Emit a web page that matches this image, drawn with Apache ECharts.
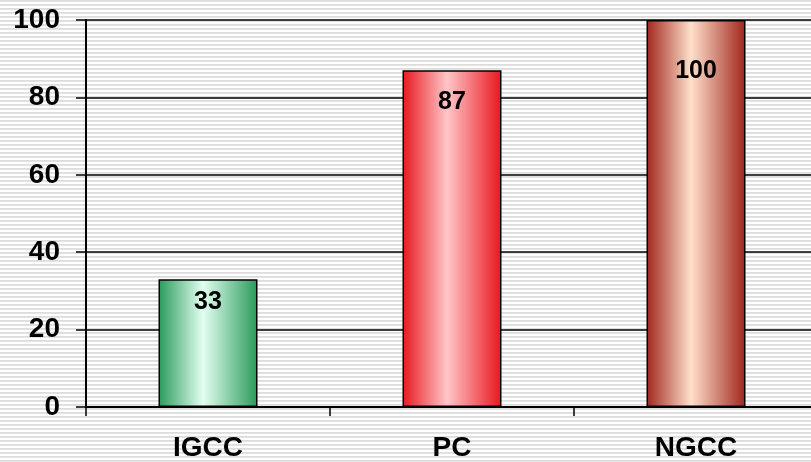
<!DOCTYPE html>
<html>
<head>
<meta charset="utf-8">
<script src="https://cdn.jsdelivr.net/npm/echarts@6/dist/echarts.min.js"></script>
<style>
html, body { margin: 0; padding: 0; }
body {
  width: 811px; height: 462px; overflow: hidden;
  background: repeating-linear-gradient(to bottom, #d9d9d9 0px, #e6e6e6 2px, #ffffff 2px, #ffffff 4px);
}
#chart { width: 818px; height: 462px; }
</style>
</head>
<body>
<div id="chart"></div>
<script>
var categories = ['IGCC', 'PC', 'NGCC'];
var values = [33, 87, 100];
var yTicks = [0, 20, 40, 60, 80, 100];

// bar colours: edge / centre of the horizontal gradient
var edgeColors = ['#2a9a5a', '#e8161e', '#a0261c'];
var midColors = ['#e2fff2', '#ffc6c8', '#ffe0cc'];
var labelGap = [10, 19, 39];

var chart = echarts.init(document.getElementById('chart'));

var barData = values.map(function(v, i) {
  return {
    value: v,
    itemStyle: {
      color: new echarts.graphic.LinearGradient(0, 0, 1, 0, [
        { offset: 0, color: edgeColors[i] },
        { offset: 0.45, color: midColors[i] },
        { offset: 1, color: edgeColors[i] }
      ])
    },
    label: { distance: labelGap[i] }
  };
});

var option = {
  backgroundColor: 'transparent',
  animation: false,
  grid: { left: 86, top: 20, right: 0, bottom: 55, containLabel: false },
  xAxis: {
    type: 'category',
    data: categories,
    axisLine: { show: true, lineStyle: { color: '#000', width: 2 } },
    axisTick: { show: true, inside: false, length: 9, lineStyle: { color: '#000', width: 1.5 } },
    axisLabel: {
      margin: 27,
      fontFamily: 'Liberation Sans, Arial, sans-serif',
      fontWeight: 'bold',
      fontSize: 28,
      color: '#000'
    },
    splitLine: { show: false }
  },
  yAxis: {
    type: 'value',
    min: yTicks[0],
    max: yTicks[yTicks.length - 1],
    interval: 20,
    axisLine: { show: true, lineStyle: { color: '#000', width: 2 } },
    axisTick: { show: true, inside: false, length: 10, lineStyle: { color: '#000', width: 1.5 } },
    axisLabel: {
      margin: 26,
      fontFamily: 'Liberation Sans, Arial, sans-serif',
      fontWeight: 'bold',
      fontSize: 28,
      color: '#000'
    },
    splitLine: { show: true, lineStyle: { color: '#000', width: 1.5 } }
  },
  series: [{
    type: 'bar',
    data: barData,
    barWidth: 99,
    itemStyle: { borderColor: '#000', borderWidth: 1.5 },
    label: {
      show: true,
      position: 'insideTop',
      fontFamily: 'Liberation Sans, Arial, sans-serif',
      fontWeight: 'bold',
      fontSize: 25,
      color: '#000'
    }
  }]
};
chart.setOption(option);
</script>
</body>
</html>
